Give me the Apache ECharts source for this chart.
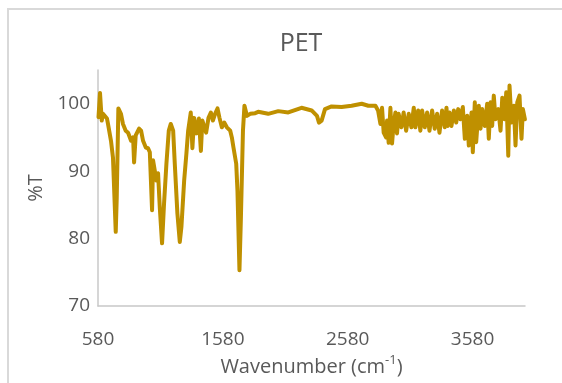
<!DOCTYPE html>
<html>
<head>
<meta charset="utf-8">
<script src="https://cdn.jsdelivr.net/npm/echarts@6/dist/echarts.min.js"></script>
<style>
html,body{margin:0;padding:0;background:#fff;}
#chart{width:562px;height:383px;}
</style>
</head>
<body>
<div id="chart"></div>
<script>
const titleText = "PET";
const xAxisName = "Wavenumber (cm-1)";
const yAxisName = "%T";
const xTicks = [580, 1580, 2580, 3580];
const yTicks = [70, 80, 90, 100];

const wavenumber = [
  584, 596, 610, 620, 652, 660, 684, 700, 722, 730, 743, 764, 780, 802, 821, 845, 861, 869, 882, 909,
  925, 941, 963, 981, 995, 1013, 1021, 1035, 1048, 1061, 1075, 1093, 1109, 1128, 1147, 1163, 1182, 1195,
  1216, 1235, 1248, 1270, 1288, 1302, 1323, 1336, 1350, 1368, 1388, 1404, 1416, 1446, 1465, 1484, 1500,
  1518, 1537, 1553, 1572, 1591, 1612, 1639, 1652, 1665, 1687, 1697, 1713, 1724, 1741, 1753, 1773, 1799,
  1839, 1863, 1943, 2024, 2104, 2210, 2291, 2334, 2350, 2371, 2398, 2451, 2531, 2611, 2692, 2745, 2775,
  2802, 2823, 2842, 2855, 2868, 2887, 2895, 2908, 2922, 2935, 2948, 2962, 2975, 2988, 3010, 3028, 3048,
  3069, 3090, 3109, 3122, 3144, 3162, 3176, 3197, 3216, 3235, 3256, 3277, 3296, 3315, 3336, 3357, 3371,
  3381, 3395, 3411, 3430, 3449, 3465, 3483, 3502, 3518, 3537, 3550, 3572, 3582, 3598, 3609, 3630, 3644,
  3657, 3678, 3697, 3710, 3724, 3737, 3750, 3764, 3786, 3804, 3818, 3836, 3850, 3866, 3876, 3892, 3911,
  3924, 3938, 3956, 3972, 3983, 3999
];
const transmittance = [
  98.0, 101.6, 97.5, 98.5, 97.8, 97.0, 94.5, 92.0, 81.0, 86.0, 99.3, 98.5, 97.0, 96.0, 95.7, 94.5, 95.0, 91.3, 95.3, 96.3,
  96.0, 94.5, 93.5, 93.4, 92.8, 84.2, 91.6, 91.6, 88.6, 89.7, 84.6, 79.3, 85.2, 91.1, 96.0, 97.0, 96.0, 91.1,
  83.7, 79.5, 81.7, 88.6, 92.6, 96.0, 98.7, 93.4, 97.9, 95.6, 97.8, 93.0, 97.5, 95.7, 97.9, 98.7, 97.5,
  98.5, 99.3, 97.9, 96.5, 97.2, 96.5, 96.0, 95.0, 93.5, 91.1, 87.1, 75.3, 82.7, 96.0, 99.7, 98.2, 98.5,
  98.6, 98.8, 98.5, 98.9, 98.7, 99.4, 99.0, 98.2, 97.2, 97.5, 99.2, 99.6, 99.5, 99.7, 100.0, 99.7, 99.7,
  99.7, 99.0, 97.0, 99.4, 95.7, 95.0, 97.5, 94.2, 99.4, 94.1, 97.0, 98.7, 95.6, 98.5, 96.5, 98.7, 96.0,
  98.5, 96.5, 99.4, 96.5, 99.0, 96.0, 99.0, 96.5, 98.7, 96.0, 99.0, 96.3, 98.5, 95.7, 99.0, 96.5, 99.4,
  96.7, 98.7, 96.7, 99.0, 97.2, 99.2, 97.7, 99.5, 94.8, 98.2, 93.8, 98.7, 92.8, 100.2, 94.3, 99.7, 96.3,
  99.2, 96.7, 100.0, 94.8, 100.2, 96.7, 101.2, 97.7, 99.2, 96.0, 100.9, 97.7, 101.7, 92.3, 102.7, 97.2, 99.7,
  93.8, 100.2, 101.2, 94.8, 99.2, 97.7
];

const seriesData = wavenumber.map((w, i) => [w, transmittance[i]]);
const textColor = '#595959';
const fontFam = '"Open Sans", "Liberation Sans", sans-serif';

const chart = echarts.init(document.getElementById('chart'), null, {renderer: 'canvas'});
chart.setOption({
  animation: false,
  backgroundColor: '#ffffff',
  title: {
    text: titleText,
    left: 296,
    top: 26,
    textAlign: 'center',
    textStyle: {color: textColor, fontSize: 25, fontWeight: 'normal', fontFamily: fontFam}
  },
  graphic: [{
    type: 'rect',
    shape: {x: 8, y: 9, width: 600, height: 420},
    style: {fill: 'none', stroke: '#D9D9D9', lineWidth: 2},
    silent: true
  }],
  grid: {left: 98, right: 37, top: 70, bottom: 77, containLabel: false},
  xAxis: {
    type: 'value',
    min: xTicks[0],
    max: 4000,
    interval: xTicks[1] - xTicks[0],
    name: '{a|Wavenumber (cm}{s|-1}{a|)}',
    nameLocation: 'middle',
    nameGap: 48,
    nameTextStyle: {
      rich: {
        a: {fontSize: 20, color: textColor, fontFamily: fontFam, lineHeight: 26},
        s: {fontSize: 13, color: textColor, fontFamily: fontFam, lineHeight: 14, verticalAlign: 'top'}
      }
    },
    axisLine: {show: true, lineStyle: {color: '#C8C8C8', width: 1.5}},
    axisTick: {show: false},
    splitLine: {show: false},
    axisLabel: {
      color: textColor, fontSize: 19, fontFamily: fontFam, margin: 24,
      showMaxLabel: false,
      formatter: v => (xTicks.includes(v) ? String(v) : '')
    }
  },
  yAxis: {
    type: 'value',
    min: yTicks[0],
    max: 105,
    interval: 10,
    name: yAxisName,
    nameLocation: 'middle',
    nameGap: 52,
    nameRotate: 90,
    nameTextStyle: {color: textColor, fontSize: 20, fontFamily: fontFam},
    axisLine: {show: true, lineStyle: {color: '#C8C8C8', width: 1.5}},
    axisTick: {show: false},
    splitLine: {show: false},
    axisLabel: {
      color: textColor, fontSize: 19, fontFamily: fontFam, margin: 8,
      showMaxLabel: false,
      formatter: v => (yTicks.includes(v) ? String(v) : '')
    }
  },
  series: [{
    type: 'line',
    data: seriesData,
    showSymbol: false,
    symbol: 'none',
    lineStyle: {color: '#BF9000', width: 4, cap: 'round', join: 'round'},
    itemStyle: {color: '#BF9000'}
  }]
});
</script>
</body>
</html>
